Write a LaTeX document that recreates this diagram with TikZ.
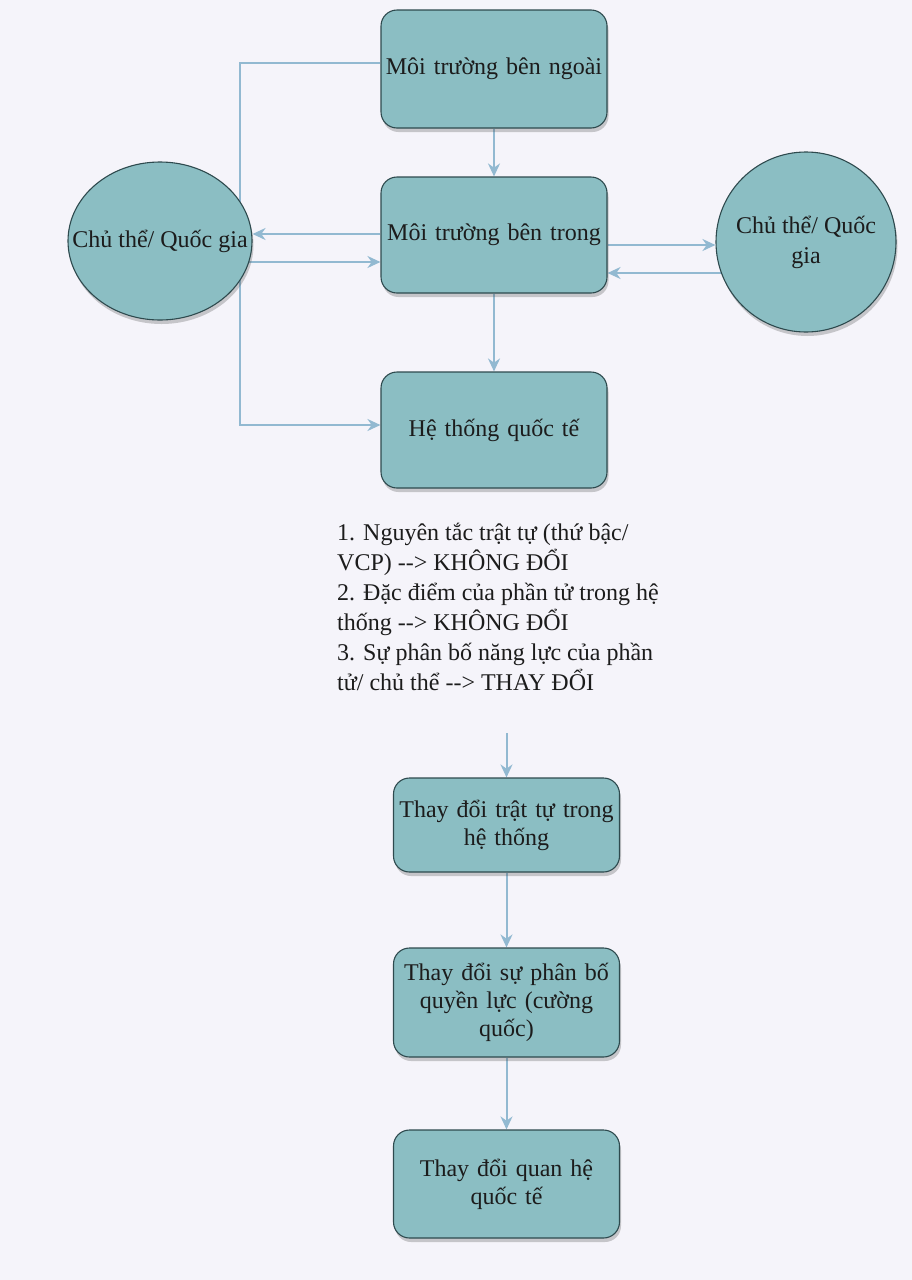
\documentclass[tikz,border=0pt]{standalone}
\usepackage{fontspec}
\setmainfont{Liberation Serif}
\usetikzlibrary{arrows.meta,shadows,shapes.geometric}
\definecolor{bgc}{HTML}{F5F4FA}
\definecolor{boxfill}{HTML}{8BBEC3}
\definecolor{boxline}{HTML}{2E4A4E}
\definecolor{arrowc}{HTML}{92B9D1}
\definecolor{txt}{HTML}{1C1C1C}
\pgfdeclarelayer{back}
\pgfdeclarelayer{edges}
\pgfsetlayers{back,edges,main}
\begin{document}
\begin{tikzpicture}[x=1pt,y=-1pt,
  boxshadow/.style={drop shadow={shadow xshift=1.5pt,shadow yshift=-4pt,opacity=0.28,fill=black!70}},
  box/.style={rectangle,rounded corners=16pt,draw=boxline,line width=1.1pt,fill=boxfill,text=txt,
    inner sep=4pt,text width=218pt,align=center,font=\fontsize{24}{28}\selectfont,boxshadow},
  oval/.style={ellipse,draw=boxline,line width=1.1pt,fill=boxfill,inner sep=0pt,boxshadow},
  ovaltext/.style={font=\fontsize{24}{30}\selectfont,align=center,inner sep=0pt,text=txt},
  conn/.style={draw=arrowc,line width=2pt},
  arr/.style={conn,-{Stealth[length=13pt,width=12pt]}}]
\begin{pgfonlayer}{back}
\fill[bgc] (0,0) rectangle (912,1280);
\end{pgfonlayer}
\useasboundingbox (0,0) rectangle (912,1280);

% nodes
\node[box,minimum height=118pt] (top) at (494,69) {Môi trường bên ngoài};
\node[box,minimum height=116pt] (inner) at (494,235) {Môi trường bên trong};
\node[box,minimum height=116pt] (sys) at (494,430) {Hệ thống quốc tế};
\node[oval,minimum width=184pt,minimum height=158pt] (lc) at (160,241) {};
\node[ovaltext] (lct) at (lc.center) {Chủ thể/ Quốc gia};
\node[oval,minimum width=180pt,minimum height=180pt] (rc) at (806,242) {};
\node[ovaltext] (rct) at (rc.center) {Chủ thể/ Quốc\\gia};

\node[anchor=north west,inner sep=0pt,align=left,text=txt,font=\fontsize{24}{30}\selectfont] (rules) at (337,523)
  {1. Nguyên tắc trật tự (thứ bậc/\\VCP) -{}-{}> KHÔNG ĐỔI\\2. Đặc điểm của phần tử trong hệ\\thống -{}-{}> KHÔNG ĐỔI\\3. Sự phân bố năng lực của phần\\tử/ chủ thể -{}-{}> THAY ĐỔI};

\node[box,minimum height=94pt] (t1) at (506.5,825) {Thay đổi trật tự trong\\hệ thống};
\node[box,minimum height=109pt] (t2) at (506.5,1002.5) {Thay đổi sự phân bố\\quyền lực (cường\\quốc)};
\node[box,minimum height=108pt] (t3) at (506.5,1184) {Thay đổi quan hệ\\quốc tế};

\coordinate (bend) at (240,425);
\coordinate (ts) at (506.5,733);

\begin{pgfonlayer}{edges}
\draw[arr] (top) -- (inner);
\draw[arr] (inner) -- (sys);
\draw[arr] (top.west |- 0,63) -| (bend) -- (sys.west |- bend);
\draw[arr] (inner.west |- 0,234) -- (lc.east |- 0,234);
\draw[arr] (lc.center |- 0,262) -- (inner.west |- 0,262);
\draw[arr] (inner.east |- 0,245) -- (rc.west |- 0,245);
\draw[arr] (rc.center |- 0,273) -- (inner.east |- 0,273);
\draw[arr] (ts) -- (ts |- t1.north);
\draw[arr] (t1) -- (t2);
\draw[arr] (t2) -- (t3);
\end{pgfonlayer}
\end{tikzpicture}
\end{document}
